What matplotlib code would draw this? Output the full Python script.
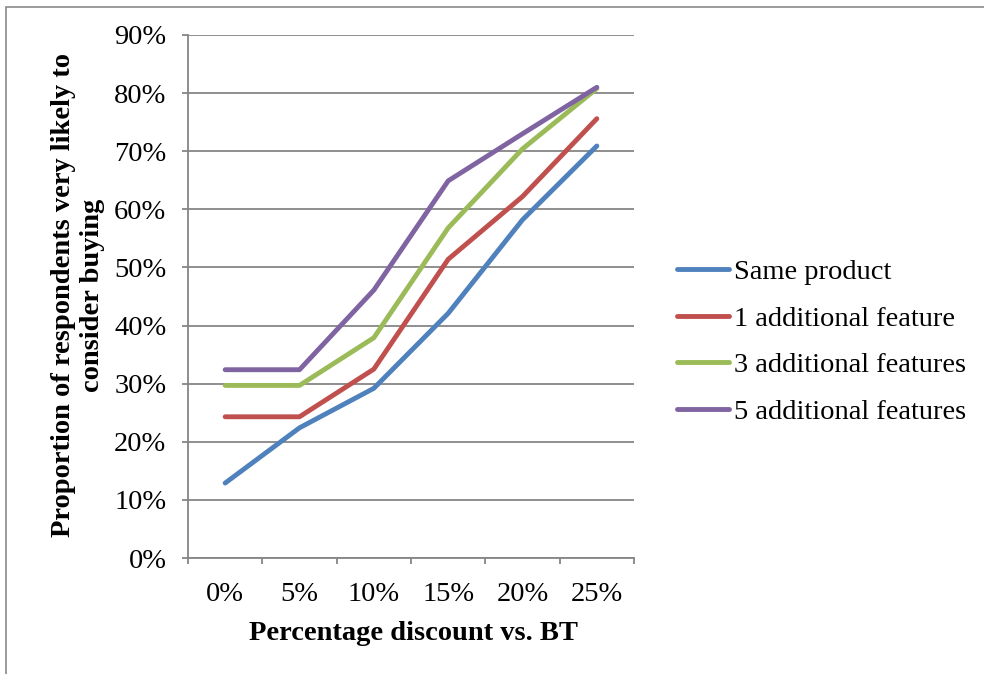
import matplotlib
matplotlib.use("Agg")
import matplotlib.pyplot as plt
from matplotlib.patches import Rectangle
from matplotlib.ticker import FixedLocator, NullFormatter

categories = ["0%", "5%", "10%", "15%", "20%", "25%"]
series_names = ["Same product", "1 additional feature", "3 additional features", "5 additional features"]
same_product = [12.9, 22.4, 29.2, 42.1, 58.2, 70.9]
one_feature = [24.3, 24.3, 32.5, 51.4, 62.2, 75.6]
three_features = [29.7, 29.7, 37.9, 56.8, 70.4, 80.8]
five_features = [32.4, 32.4, 46.1, 64.9, 73.0, 81.0]
colors = ["#4F81BD", "#C0504D", "#9BBB59", "#8064A2"]
yticks = [0, 10, 20, 30, 40, 50, 60, 70, 80, 90]

plt.rcParams['font.family'] = ['Liberation Serif', 'DejaVu Serif']
FS = 20.5

fig = plt.figure(figsize=(9.84, 6.74), dpi=100)
fig.patches.append(Rectangle((6/984, -0.1), 1.2, (674-7)/674 + 0.1, transform=fig.transFigure,
                             fill=False, edgecolor="#8a8a8a", linewidth=1.2))
ax = fig.add_axes([188/984, 1 - 558/674, (634-188)/984, (558-35)/674])

x = list(range(len(categories)))
for vals, name, c in zip([same_product, one_feature, three_features, five_features], series_names, colors):
    ax.plot(x, vals, color=c, linewidth=3.5, label=name, solid_capstyle='round', solid_joinstyle='round')

ax.set_xlim(-0.5, len(categories) - 0.5)
ax.set_ylim(0, 90)
ax.set_yticks(yticks)
ax.set_yticklabels([f"{v}%" for v in yticks], fontsize=FS)
ax.yaxis.grid(True, color="#868686", linewidth=1.3)
ax.set_axisbelow(True)

ax.xaxis.set_major_locator(FixedLocator([i - 0.5 for i in range(len(categories) + 1)]))
ax.xaxis.set_major_formatter(NullFormatter())
ax.xaxis.set_minor_locator(FixedLocator(x))
ax.set_xticklabels(categories, minor=True, fontsize=FS)
ax.tick_params(axis='x', which='minor', length=0, pad=17)
ax.tick_params(axis='x', which='major', length=4.5, color="#868686", width=1.3)
ax.tick_params(axis='y', length=4.5, color="#868686", width=1.3, pad=11)

for s in ["top", "right"]:
    ax.spines[s].set_visible(False)
for s in ["left", "bottom"]:
    ax.spines[s].set_color("#868686")
    ax.spines[s].set_linewidth(1.3)

fig.text(413/984, 1 - 633/674, "Percentage discount vs. BT", fontsize=FS, fontweight='bold',
         ha='center', va='center')
fig.text(78/984, 1 - 295/674, "Proportion of respondents very likely to\nconsider buying", fontsize=FS,
         fontweight='bold', rotation=90, ha='center', va='center', multialignment='center', linespacing=1.2)

fig.legend(loc='center left', bbox_to_anchor=(651/984, 1 - 342/674), frameon=False, fontsize=FS,
           handlelength=1.83, handletextpad=0.18, labelspacing=0.72)

fig.savefig("out.png", dpi=100)
